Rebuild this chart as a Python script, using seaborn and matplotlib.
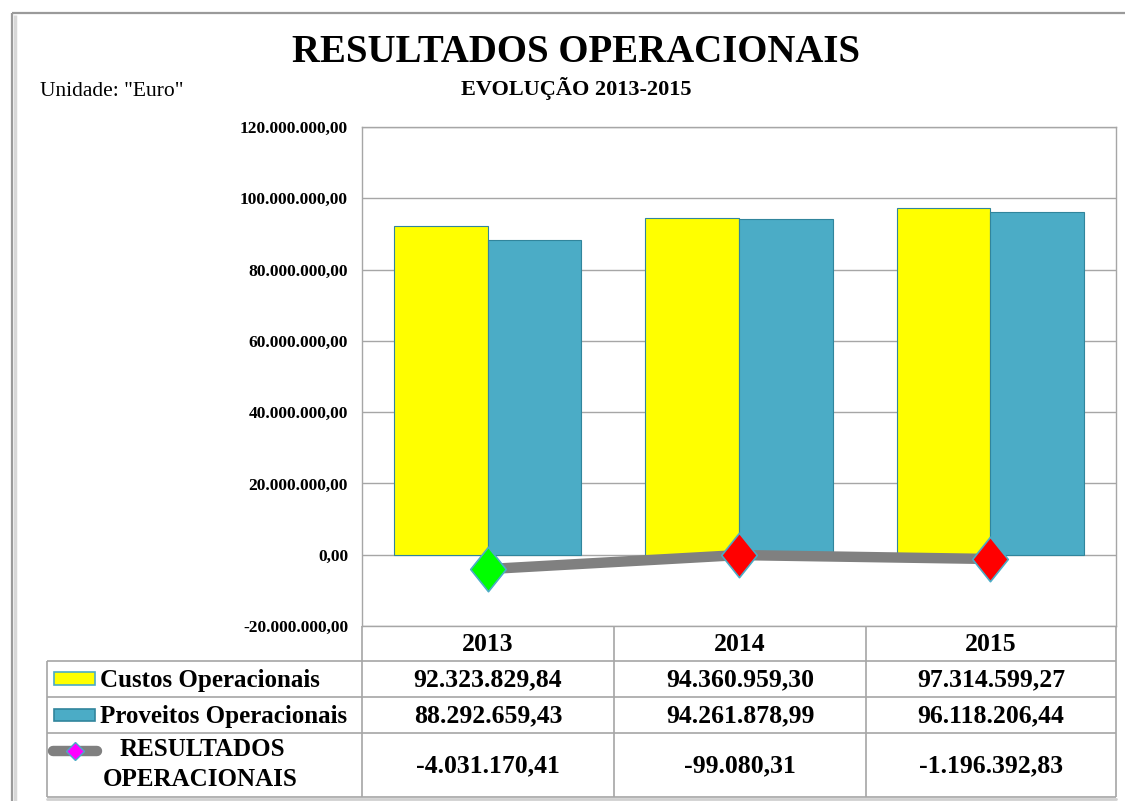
import matplotlib
matplotlib.use('Agg')
import matplotlib.pyplot as plt
import numpy as np
import pandas as pd
import seaborn as sns
from matplotlib.patches import Rectangle
from matplotlib.path import Path as MPath
from matplotlib.ticker import FuncFormatter

# dados
anos = ['2013', '2014', '2015']
custos = [92323829.84, 94360959.30, 97314599.27]
proveitos = [88292659.43, 94261878.99, 96118206.44]
resultados = [-4031170.41, -99080.31, -1196392.83]
series = ['Custos Operacionais', 'Proveitos Operacionais']

# estilos
AMARELO = '#FFFF00'
AZUL = '#4BACC6'
CINZA = '#808080'
BORDA = '#31859C'
GRELHA = '#A6A6A6'
cores_marcador = ['#00FF00', '#FF0000', '#FF0000']
FONTE = 'Liberation Serif'

sns.set_theme(style='white')
plt.rcParams['font.family'] = [FONTE, 'DejaVu Serif']

W, H = 1125, 801


def fmt_pt(v):
    s = f"{v:,.2f}"
    return s.replace(',', 'X').replace('.', ',').replace('X', '.')


# losango mais alto que largo
losango = MPath([(0, 1), (0.8, 0), (0, -1), (-0.8, 0), (0, 1)],
                [MPath.MOVETO, MPath.LINETO, MPath.LINETO, MPath.LINETO, MPath.CLOSEPOLY])

fig = plt.figure(figsize=(W / 100, H / 100), dpi=100)
fig.patch.set_facecolor('white')

# camada de fundo em pixeis (moldura, títulos, tabela)
ov = fig.add_axes([0, 0, 1, 1], zorder=0)
ov.set_xlim(0, W)
ov.set_ylim(H, 0)
ov.axis('off')

# moldura
ov.plot([12, W], [13, 13], color='#9A9A9A', lw=1.6, solid_capstyle='butt')
ov.plot([12, 12], [13, H], color='#9A9A9A', lw=1.6, solid_capstyle='butt')
ov.plot([14.5, 14.5], [15, H], color='#D8D8D8', lw=2.5, solid_capstyle='butt')

ov.text(576, 53, 'RESULTADOS OPERACIONAIS', ha='center', va='center',
        fontsize=28, fontweight='bold', color='black')
ov.text(576, 88, 'EVOLUÇÃO 2013-2015', ha='center', va='center',
        fontsize=16, fontweight='bold', color='black')
ov.text(40, 92, 'Unidade: "Euro"', ha='left', va='center', fontsize=15.5, color='black')

# eixo principal
x0, x1, y0, y1 = 362, 1116, 127, 626
ax = fig.add_axes([x0 / W, 1 - y1 / H, (x1 - x0) / W, (y1 - y0) / H], zorder=1)
ax.patch.set_alpha(0)

df = pd.DataFrame({
    'Ano': anos * 2,
    'Valor': custos + proveitos,
    'Serie': [series[0]] * 3 + [series[1]] * 3,
})
sns.barplot(data=df, x='Ano', y='Valor', hue='Serie', palette=[AMARELO, AZUL],
            saturation=1, width=0.745, edgecolor=BORDA, linewidth=0.8,
            legend=False, ax=ax, zorder=2)

pos = np.arange(len(anos))
sns.lineplot(x=pos, y=resultados, color=CINZA, lw=7.5, ax=ax, zorder=3,
             solid_capstyle='butt')
for xi, yi, c in zip(pos, resultados, cores_marcador):
    ax.plot(xi, yi, marker=losango, markersize=32, markerfacecolor=c,
            markeredgecolor=AZUL, markeredgewidth=1.2, zorder=4, clip_on=False)

ax.set_xlim(-0.5, 2.5)
ax.set_ylim(-20e6, 120e6)
ax.set_yticks(np.arange(-20e6, 120e6 + 1, 20e6))
ax.yaxis.set_major_formatter(FuncFormatter(lambda v, p: fmt_pt(v)))
ax.set_xticks([])
ax.set_xlabel('')
ax.set_ylabel('')
ax.grid(axis='y', color=GRELHA, lw=1, zorder=0)
ax.set_axisbelow(True)
for s in ax.spines.values():
    s.set_color(GRELHA)
    s.set_linewidth(1)
ax.tick_params(axis='y', length=0, pad=10, labelsize=12.6)
for t in ax.get_yticklabels():
    t.set_fontweight('bold')
    t.set_color('black')

# tabela de dados
col_x = [362, 614, 866, 1116]
row_y = [626, 661, 697, 733, 797]
lkw = dict(color=GRELHA, lw=1.2, solid_capstyle='butt')
for yy in row_y[1:]:
    ov.plot([47, 1116], [yy, yy], **lkw)
for xx in col_x:
    ov.plot([xx, xx], [626, 797], **lkw)
ov.plot([47, 47], [661, 797], **lkw)
ov.plot([47, 1116], [799, 799], color='#D0D0D0', lw=2)

centros = [(col_x[i] + col_x[i + 1]) / 2 for i in range(3)]
meio = [(row_y[i] + row_y[i + 1]) / 2 for i in range(4)]
tkw = dict(ha='center', va='center', fontsize=18.5, fontweight='bold', color='black')
for i, ano in enumerate(anos):
    ov.text(centros[i], meio[0] + 1, ano, **tkw)
    ov.text(centros[i], meio[1] + 1, fmt_pt(custos[i]), **tkw)
    ov.text(centros[i], meio[2] + 1, fmt_pt(proveitos[i]), **tkw)
    ov.text(centros[i], meio[3] + 1, fmt_pt(resultados[i]), **tkw)

# chaves da legenda na tabela
ov.add_patch(Rectangle((54, 672), 41, 13, facecolor=AMARELO, edgecolor=AZUL, lw=1.2))
ov.add_patch(Rectangle((54, 709), 41, 12, facecolor=AZUL, edgecolor=BORDA, lw=1.2))
ov.plot([53, 97], [751, 751], color=CINZA, lw=7.5, solid_capstyle='round')
ov.plot(75, 751, marker='D', markersize=9, markerfacecolor='#FF00FF',
        markeredgecolor=AZUL, markeredgewidth=1)

lkw2 = dict(ha='left', va='center', fontsize=18, fontweight='bold', color='black')
ov.text(100, meio[1] + 1, series[0], **lkw2)
ov.text(100, meio[2] + 1, series[1], **lkw2)
ov.text(202, 750, 'RESULTADOS', ha='center', va='center', fontsize=18,
        fontweight='bold', color='black')
ov.text(200, 779, 'OPERACIONAIS', ha='center', va='center', fontsize=18,
        fontweight='bold', color='black')

fig.savefig('out.png', dpi=100, facecolor='white')
